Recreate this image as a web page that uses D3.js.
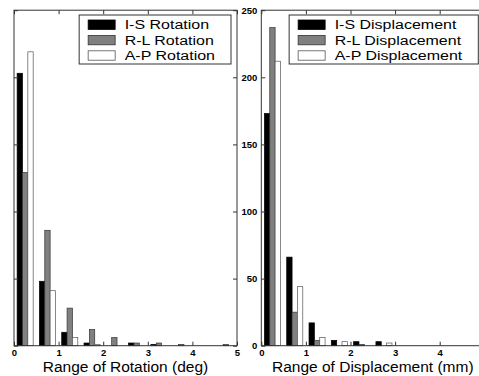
<!DOCTYPE html>
<html>
<head>
<meta charset="utf-8">
<script src="https://cdn.jsdelivr.net/npm/d3@7"></script>
<style>
  body { margin: 0; background: #fff; }
  svg { display: block; font-family: "Liberation Sans", Arial, Helvetica, sans-serif; }
</style>
</head>
<body>
<div id="chart"></div>
<script>
// histogram bin centres and x ticks
const binCenters = [0.25, 0.75, 1.25, 1.75, 2.25, 2.75, 3.25, 3.75, 4.25, 4.75];
const xTicks = [0, 1, 2, 3, 4, 5];
const yTicks = [0, 50, 100, 150, 200, 250];

// counts per bin, rotation (deg)
const rotIS = [203, 48, 10, 2, 0, 2, 1, 0, 0, 0];
const rotRL = [129, 86, 28, 12, 6, 2, 2, 1, 0, 1];
const rotAP = [219, 41, 6, 1, 0, 0, 0, 0, 0, 0];

// counts per bin, displacement (mm)
const dispIS = [173, 66, 17, 4, 3, 3, 0, 0, 0, 0];
const dispRL = [237, 25, 4, 0, 1, 0, 0, 0, 0, 0];
const dispAP = [212, 44, 6, 3, 0, 2, 0, 0, 0, 0];

const rotLabels = ["I-S Rotation", "R-L Rotation", "A-P Rotation"];
const dispLabels = ["I-S Displacement", "R-L Displacement", "A-P Displacement"];

const width = 479, height = 376;
const fills = ["#000000", "#808080", "#ffffff"];
const strokes = ["#000000", "#333333", "#555555"];

const svg = d3.select("#chart")
  .append("svg")
  .attr("width", width)
  .attr("height", height);

const pw = 223, marginTop = 10.2, ph = 335.5;
const x = d3.scaleLinear().domain([0, 5]).range([0, pw]);
const y = d3.scaleLinear().domain([0, 250]).range([ph, 0]);
const barW = 0.12;

function drawPanel(left, series, labels, title, showY) {
  const g = svg.append("g").attr("transform", `translate(${left},${marginTop})`);

  // bars, three per bin
  series.forEach((vals, i) => {
    g.append("g")
      .selectAll("rect")
      .data(vals.map((v, j) => ({ c: binCenters[j], v })).filter(d => d.v > 0))
      .join("rect")
      .attr("x", d => x(d.c + (i - 1) * barW - barW / 2))
      .attr("width", x(barW) - x(0))
      .attr("y", d => y(d.v))
      .attr("height", d => y(0) - y(d.v))
      .attr("fill", fills[i])
      .attr("stroke", strokes[i])
      .attr("stroke-width", 0.7);
  });

  const styleAxis = a => {
    a.select(".domain").remove();
    a.selectAll("line").attr("stroke", "#333");
    a.selectAll("text").attr("font-size", 9.5).attr("font-weight", "bold").attr("fill", "#000");
  };

  // the right panel runs past the page edge, so its last label is left out
  const xFmt = d => (left + x(d) + 4 > width ? "" : d3.format("d")(d));

  g.append("g").attr("transform", `translate(0,${ph})`)
    .call(d3.axisBottom(x).tickValues(xTicks).tickSizeInner(-4).tickSizeOuter(0).tickPadding(4).tickFormat(xFmt))
    .call(styleAxis);
  g.append("g")
    .call(d3.axisTop(x).tickValues(xTicks).tickSizeInner(-4).tickSizeOuter(0).tickFormat(""))
    .call(styleAxis);
  g.append("g")
    .call(d3.axisLeft(y).tickValues(yTicks).tickSizeInner(-4).tickSizeOuter(0).tickPadding(4)
      .tickFormat(showY ? d3.format("d") : ""))
    .call(styleAxis);
  g.append("g").attr("transform", `translate(${pw},0)`)
    .call(d3.axisRight(y).tickValues(yTicks).tickSizeInner(-4).tickSizeOuter(0).tickFormat(""))
    .call(styleAxis);

  g.append("rect")
    .attr("width", pw).attr("height", ph)
    .attr("fill", "none").attr("stroke", "#333").attr("stroke-width", 1);

  g.append("text")
    .attr("x", pw / 2).attr("y", 362)
    .attr("text-anchor", "middle")
    .attr("font-size", 15.5)
    .text(title);

  // legend box in the upper right corner
  const sx = 1.28;
  const lg = g.append("g");
  const box = lg.append("rect").attr("fill", "#fff").attr("stroke", "#333").attr("stroke-width", 1);
  let maxW = 0;
  labels.forEach((lab, i) => {
    const cy = 9.7 + i * 15.4;
    lg.append("rect")
      .attr("x", 9).attr("y", cy - 4.7).attr("width", 27).attr("height", 9.4)
      .attr("fill", fills[i]).attr("stroke", strokes[i]).attr("stroke-width", 0.8);
    const t = lg.append("text")
      .attr("transform", `translate(45.5,${cy + 4.5}) scale(${sx},1)`)
      .attr("font-size", 12.5)
      .text(lab);
    maxW = Math.max(maxW, t.node().getComputedTextLength() * sx);
  });
  const lw = 45.5 + maxW + 16;
  box.attr("width", lw).attr("height", 49);
  lg.attr("transform", `translate(${pw - 6 - lw},${15 - marginTop})`);
}

drawPanel(14, [rotIS, rotRL, rotAP], rotLabels, "Range of Rotation (deg)", false);
drawPanel(261.3, [dispIS, dispRL, dispAP], dispLabels, "Range of Displacement (mm)", true);
</script>
</body>
</html>
